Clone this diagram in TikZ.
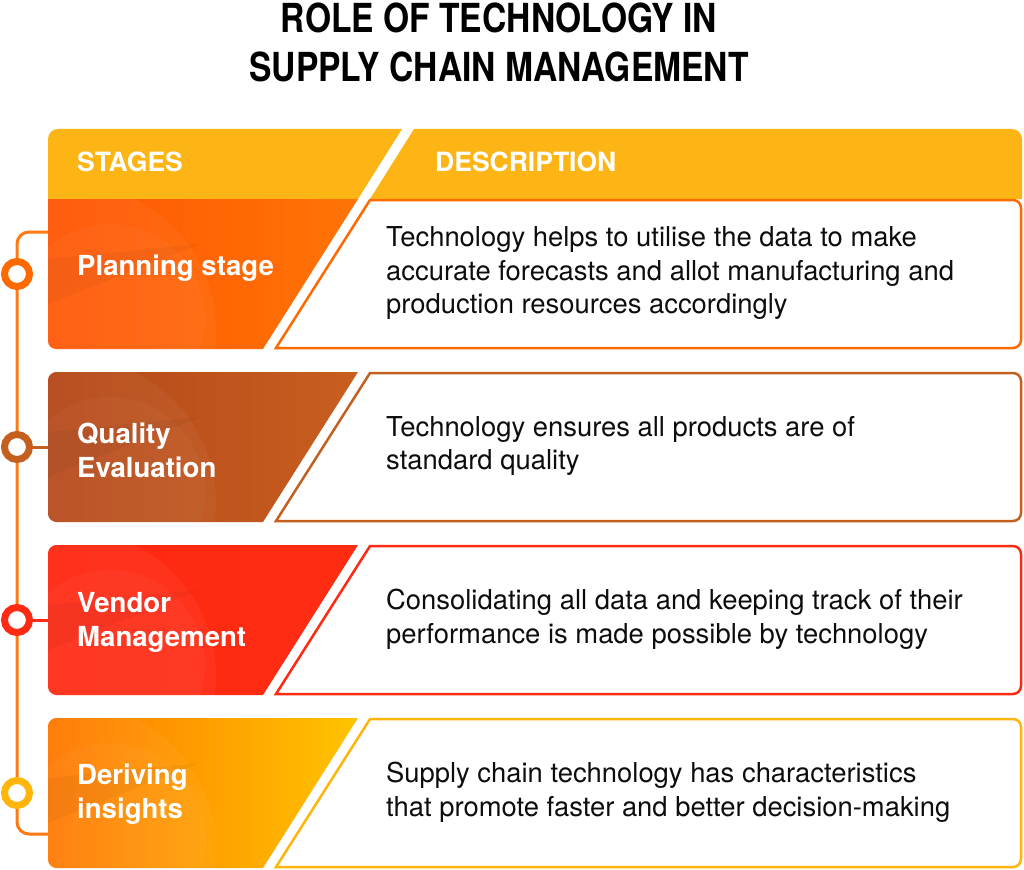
\documentclass[tikz,border=0pt]{standalone}
\usepackage{fontspec}
\setmainfont{TeX Gyre Heros}
\newfontfamily\ttlfont{TeX Gyre Heros}[FakeStretch=0.84]
\definecolor{hdr}{HTML}{FDB515}
\definecolor{lineOr}{HTML}{FF7A12}
\definecolor{oA}{HTML}{FF6A00}
\definecolor{oL}{HTML}{FF5505}
\definecolor{oR}{HTML}{FF7405}
\definecolor{bA}{HTML}{C4601F}
\definecolor{bL}{HTML}{B5481A}
\definecolor{bR}{HTML}{C85E1F}
\definecolor{rA}{HTML}{FF2A14}
\definecolor{rL}{HTML}{FF2812}
\definecolor{rR}{HTML}{FF2C12}
\definecolor{yA}{HTML}{FFB50A}
\definecolor{yL}{HTML}{FF7800}
\definecolor{yR}{HTML}{FFC400}
\tikzset{
  desc/.style={anchor=west, align=left, inner sep=0pt, font=\fontsize{27.4}{33.5}\selectfont, text=black!95},
  stg/.style={anchor=west, align=left, inner sep=0pt, font=\fontsize{27.6}{34}\selectfont\bfseries, text=white},
  hdrtxt/.style={anchor=west, inner sep=0pt, font=\fontsize{26.5}{30}\selectfont\bfseries, text=white},
  ttl/.style={anchor=base, inner sep=0pt, font={\ttlfont\fontsize{40}{48}\selectfont\bfseries}, text=black},
  ring/.style={circle, fill=white, line width=7pt, minimum size=25pt, inner sep=0pt, draw=#1},
  tline/.style={line width=3pt, draw=#1},
  dbox/.style={line width=2.5pt, draw=#1, fill=white},
}
% description box for a row whose top is #1
\newcommand{\descbox}[2]{%
  \draw[dbox=#2] (370,#1+1) -- (1013,#1+1) .. controls (1017.4,#1+1) and (1021,#1+4.6) .. (1021,#1+9)
    -- (1021,#1+141) .. controls (1021,#1+145.4) and (1017.4,#1+149) .. (1013,#1+149) -- (276,#1+149) -- cycle;}
% stage shape for rows 2-4 (both left corners rounded)
\newcommand{\stagebox}[3]{%
  \shade[left color=#2, right color=#3] (48,#1+8) .. controls (48,#1+3.6) and (52.4,#1) .. (56,#1) -- (358,#1) -- (263,#1+150)
    -- (56,#1+150) .. controls (52.4,#1+150) and (48,#1+146.4) .. (48,#1+142) -- cycle;
  \begin{scope}
    \clip (48,#1+8) .. controls (48,#1+3.6) and (52.4,#1) .. (56,#1) -- (358,#1) -- (263,#1+150)
      -- (56,#1+150) .. controls (52.4,#1+150) and (48,#1+146.4) .. (48,#1+142) -- cycle;
    \fill[white, opacity=.045] (70,#1+131) circle (146pt);
    \fill[white, opacity=.03] (110,#1+120) circle (95pt);
    \fill[black, opacity=.04] (48,#1+60) -- (200,#1+45) -- (48,#1+105) -- cycle;
  \end{scope}}
\begin{document}
\begin{tikzpicture}[x=1pt,y=-1pt]
\useasboundingbox (0,0) rectangle (1024,869);
\fill[white] (0,0) rectangle (1024,869);

% title
\node[ttl] (t1) at (499,33) {ROLE OF TECHNOLOGY IN};
\node[ttl] (t2) at (499,82) {SUPPLY CHAIN MANAGEMENT};

% timeline spine
\coordinate (hkT) at (48,232);
\coordinate (hkB) at (48,834);
\draw[tline=lineOr] (hkT) -- (29,232) .. controls (22.4,232) and (17,237.4) .. (17,244)
  -- (17,822) .. controls (17,828.6) and (22.4,834) .. (29,834) -- (hkB);

% rings
\node[ring=oA] (c1) at (17,274) {};
\node[ring=bA] (c2) at (17,447) {};
\node[ring=rA] (c3) at (17,620) {};
\node[ring=yA] (c4) at (17,793) {};
\coordinate (e2) at (50,447);
\coordinate (e3) at (50,620);
\draw[tline=bA] (c2) -- (e2);
\draw[tline=rA] (c3) -- (e3);

% header band
\fill[hdr] (48,139) .. controls (48,133.5) and (52.5,129) .. (58,129) -- (402,129) -- (358,199) -- (48,199) -- cycle;
\fill[hdr] (414,129) -- (1012,129) .. controls (1017.5,129) and (1022,133.5) .. (1022,139) -- (1022,199) -- (370,199) -- cycle;
\node[hdrtxt] (h1) at (77,162) {STAGES};
\node[hdrtxt] (h2) at (435,162) {DESCRIPTION};

% row 1
\shade[left color=oL, right color=oR] (48,199) -- (358,199) -- (263,349) -- (56,349) .. controls (51.6,349) and (48,345.4) .. (48,341) -- cycle;
\begin{scope}
  \clip (48,199) -- (358,199) -- (263,349) -- (56,349) .. controls (51.6,349) and (48,345.4) .. (48,341) -- cycle;
  \fill[white, opacity=.045] (70,330) circle (146pt);
  \fill[white, opacity=.03] (110,319) circle (95pt);
  \fill[black, opacity=.04] (48,259) -- (200,244) -- (48,304) -- cycle;
\end{scope}
\descbox{199}{oA}
\node[stg] (s1) at (77,268) {Planning stage};
\node[desc] (d1) at (386,273) {Technology helps to utilise the data to make\\accurate forecasts and allot manufacturing and\\production resources accordingly};

% row 2
\stagebox{372}{bL}{bR}
\descbox{372}{bA}
\node[stg] (s2) at (77,450) {Quality\\Evaluation};
\node[desc] (d2) at (386,446) {Technology ensures all products are of\\standard quality};

% row 3
\stagebox{545}{rL}{rR}
\descbox{545}{rA}
\node[stg] (s3) at (77,622) {Vendor\\Management};
\node[desc] (d3) at (386,619) {Consolidating all data and keeping track of their\\performance is made possible by technology};

% row 4
\stagebox{718}{yL}{yR}
\descbox{718}{yA}
\node[stg] (s4) at (77,794) {Deriving\\insights};
\node[desc] (d4) at (386,792) {Supply chain technology has characteristics\\that promote faster and better decision-making};
\end{tikzpicture}
\end{document}
